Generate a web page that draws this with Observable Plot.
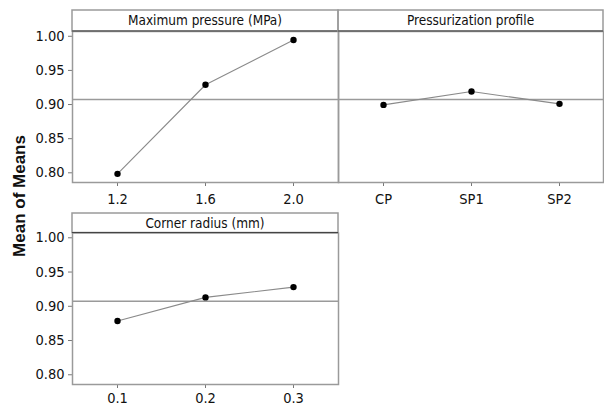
<!DOCTYPE html>
<html>
<head>
<meta charset="utf-8">
<script src="https://cdn.jsdelivr.net/npm/d3@7"></script>
<script src="https://cdn.jsdelivr.net/npm/@observablehq/plot@0.6"></script>
<style>
  html, body { margin: 0; padding: 0; background: #fff; }
  #chart { position: relative; width: 604px; height: 407px; overflow: hidden; background: #fff; }
  #chart svg { position: absolute; overflow: visible; }
  #ytitle {
    position: absolute; left: 20px; top: 196px;
    transform: translate(-50%, -50%) rotate(-90deg);
    font: bold 17px "Liberation Sans", Arial, sans-serif; color: #111; white-space: nowrap;
  }
</style>
</head>
<body>
<div id="chart"><div id="ytitle">Mean of Means</div></div>
<script>
// ---- data ----
const pressureLevels = ["1.2", "1.6", "2.0"];
const pressureMeans = [0.7985, 0.929, 0.9945];
const profileLevels = ["CP", "SP1", "SP2"];
const profileMeans = [0.8995, 0.919, 0.901];
const radiusLevels = ["0.1", "0.2", "0.3"];
const radiusMeans = [0.8785, 0.913, 0.928];
const grandMean = 0.9075;
const yTicks = [0.80, 0.85, 0.90, 0.95, 1.00];
const panelTitles = ["Maximum pressure (MPa)", "Pressurization profile", "Corner radius (mm)"];

const yDomain = [0.7858, 1.0070];
const FONT = '"DejaVu Sans Condensed", "DejaVu Sans", sans-serif';

function panel({levels, means, title, left, top, width, height, mt, mb, ml, mr, headerH, showY, xPad, xTick}) {
  const data = levels.map((l, i) => ({level: l, value: means[i]}));
  const svg = Plot.plot({
    width, height,
    marginTop: mt, marginBottom: mb, marginLeft: ml, marginRight: mr,
    style: {fontFamily: FONT, fontSize: "14.5px", fontStretch: "condensed", color: "#111", background: "transparent", overflow: "visible"},
    x: {type: "point", domain: levels, padding: 0.5, label: null, axis: null},
    y: {domain: yDomain, label: null, axis: null},
    marks: [
      Plot.ruleY([grandMean], {stroke: "#9a9a9a", strokeWidth: 1.5}),
      Plot.line(data, {x: "level", y: "value", stroke: "#8a8a8a", strokeWidth: 1.1}),
      Plot.dot(data, {x: "level", y: "value", r: 3.2, fill: "#000", stroke: "none"}),
      Plot.axisX({tickSize: xTick, tickPadding: xPad, stroke: "#777", label: null, fontSize: 14.5, fill: "#111"}),
      showY ? Plot.axisY({ticks: yTicks, tickFormat: ".2f", tickSize: 4, tickPadding: 4, stroke: "#777", label: null, fontSize: 14.5, fill: "#111"}) : null,
      Plot.frame({stroke: "#9a9a9a", strokeWidth: 1.5})
    ].filter(Boolean)
  });
  svg.style.left = left + "px";
  svg.style.top = top + "px";
  const g = d3.select(svg).append("g");
  const x0 = ml, x1 = width - mr, y1 = mt, y0 = mt - headerH;
  g.append("rect").attr("x", x0).attr("y", y0).attr("width", x1 - x0).attr("height", headerH)
    .attr("fill", "none").attr("stroke", "#9a9a9a").attr("stroke-width", 1.5);
  g.append("line").attr("x1", x0).attr("x2", x1).attr("y1", y1).attr("y2", y1)
    .attr("stroke", "#444").attr("stroke-width", 1.2);
  g.append("text").attr("x", (x0 + x1) / 2).attr("y", (y0 + y1) / 2).attr("dy", "0.36em")
    .attr("text-anchor", "middle").attr("fill", "#111")
    .style("font-family", FONT).style("font-stretch", "condensed").style("font-size", "13.5px")
    .text(title);
  document.getElementById("chart").appendChild(svg);
}

panel({levels: pressureLevels, means: pressureMeans, title: panelTitles[0],
  left: 0, top: 0, width: 340, height: 200, mt: 31, mb: 18, ml: 72, mr: 2, headerH: 21, showY: true, xPad: 7, xTick: 4});
panel({levels: profileLevels, means: profileMeans, title: panelTitles[1],
  left: 336, top: 0, width: 268, height: 200, mt: 31, mb: 18, ml: 2, mr: 1, headerH: 21, showY: false, xPad: 7, xTick: 4});
panel({levels: radiusLevels, means: radiusMeans, title: panelTitles[2],
  left: 0, top: 203, width: 340, height: 204, mt: 29.5, mb: 23, ml: 72, mr: 2, headerH: 19.5, showY: true, xPad: 4, xTick: 4});
</script>
</body>
</html>
